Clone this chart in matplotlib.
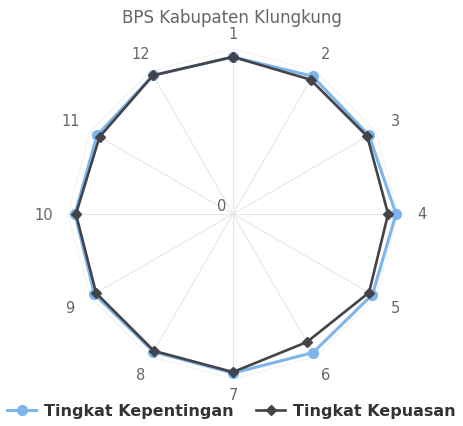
import matplotlib
matplotlib.use("Agg")
import matplotlib.pyplot as plt
import numpy as np

title = "BPS Kabupaten Klungkung"
categories = ["1", "2", "3", "4", "5", "6", "7", "8", "9", "10", "11", "12"]
kepentingan = [4.76, 4.82, 4.76, 4.94, 4.88, 4.85, 4.82, 4.82, 4.85, 4.79, 4.76, 4.85]
kepuasan = [4.76, 4.70, 4.70, 4.70, 4.76, 4.48, 4.79, 4.79, 4.79, 4.76, 4.67, 4.85]
y_max = 5.0

blue = "#7cb5ec"
dark = "#434348"
grid_col = "#e6e6e6"
label_col = "#666666"

W, H = 463, 427
fig = plt.figure(figsize=(W / 100, H / 100), dpi=100)

# polar area: center (233, 215) px, radius 165 px
cx, cy, R = 233, 215, 165
ax = fig.add_axes([(cx - R) / W, (H - cy - R) / H, 2 * R / W, 2 * R / H], projection="polar")
ax.set_theta_zero_location("N")
ax.set_theta_direction(-1)
ax.set_ylim(0, y_max)
ax.spines["polar"].set_visible(False)
ax.set_facecolor("none")

n = len(categories)
theta = np.arange(n) * 2 * np.pi / n

# spokes + faint outer polygon grid
ax.set_xticks(theta)
ax.set_xticklabels([])
ax.set_yticks([])
ax.xaxis.grid(True, color=grid_col, linewidth=0.75)
ax.yaxis.grid(False)
ring = np.append(theta, theta[0])
ax.plot(ring, [y_max] * (n + 1), color="#f2f2f2", linewidth=0.75, zorder=1)

# category labels around the outside
for t, lab in zip(theta, categories):
    d = 181 + 8 * abs(np.sin(t))
    ax.text(t, y_max * d / R, lab, ha="center", va="center",
            fontsize=10.5, color=label_col, clip_on=False)

# y axis label "0"
ax.annotate("0", xy=(0, 0), xytext=(-11, 8), textcoords="offset pixels",
            ha="center", va="center", fontsize=10.5, color=label_col)

k1 = np.append(kepentingan, kepentingan[0])
k2 = np.append(kepuasan, kepuasan[0])
l1, = ax.plot(ring, k1, color=blue, linewidth=2.2, marker="o", markersize=7,
              label="Tingkat Kepentingan", zorder=3, clip_on=False)
l2, = ax.plot(ring, k2, color=dark, linewidth=1.9, marker="D", markersize=5.5,
              label="Tingkat Kepuasan", zorder=4, clip_on=False)

fig.text(0.5, 1 - 18 / H, title, ha="center", va="center", fontsize=12, color=label_col)

fig.legend(handles=[l1, l2], loc="center", bbox_to_anchor=(0.5, 1 - 412 / H),
           ncol=2, frameon=False, handlelength=1.8, handletextpad=0.5,
           columnspacing=1.4, prop={"weight": "bold", "size": 11.5},
           labelcolor="#333333")

fig.savefig("out.png", dpi=100)
